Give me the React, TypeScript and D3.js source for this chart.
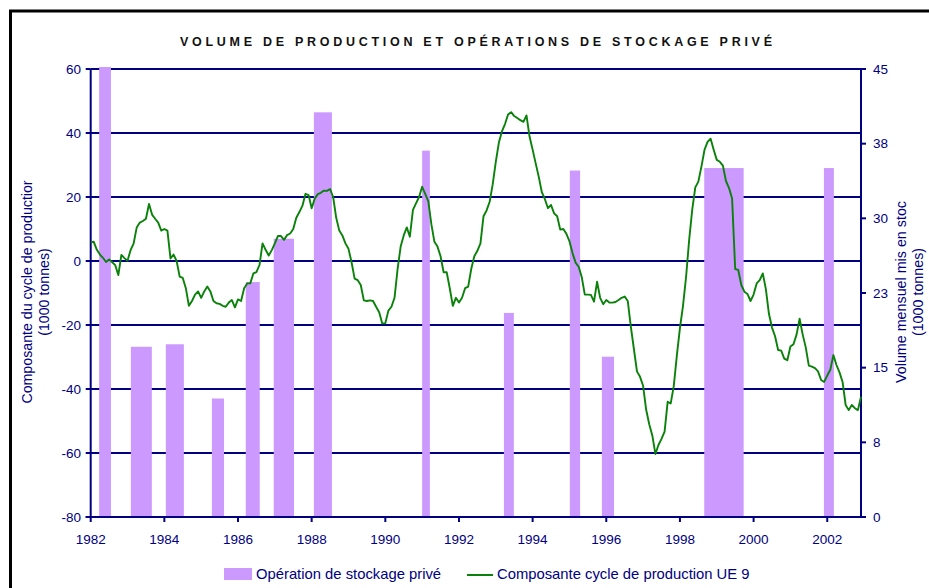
import React from "react";
import * as d3 from "d3";

const START_YEAR = 1982;
const cycleValues: number[] = [
  5.8, 6.0, 3.5, 2.0, 1.0, -0.3, 0.5, -0.4, -1.3, -4.4, 1.9, 0.9,
  0.1, 3.4, 5.5, 10.5, 12.0, 12.5, 13.2, 17.8, 14.5, 13.2, 12.0, 9.5,
  10.0, 9.5, 0.8, 2.0, 0.0, -4.9, -5.3, -8.5, -14.0, -12.5, -10.5, -9.5,
  -11.5, -9.5, -8.0, -9.5, -12.5, -13.2, -13.4, -14.0, -14.3, -13.0, -12.2, -14.5,
  -12.0, -12.5, -8.5, -7.0, -7.0, -3.9, -3.5, -1.25, 5.5, 3.5, 1.7, 3.4,
  5.5, 7.8, 7.8, 6.6, 8.1, 8.6, 10.0, 13.5, 15.3, 17.3, 21.0, 20.6,
  16.5, 19.5, 20.9, 21.3, 22.0, 21.9, 22.5, 20.0, 13.5, 9.5, 8.0, 5.5,
  3.8, -0.4, -5.5, -6.0, -7.5, -12.3, -12.5, -12.3, -12.5, -14.3, -16.0, -19.5,
  -19.5, -15.5, -14.3, -11.5, -2.5, 4.5, 8.0, 10.5, 7.6, 16.0, 18.0, 20.0,
  23.2, 21.0, 18.7, 11.5, 6.0, 4.5, 1.5, -3.5, -3.5, -8.5, -14.0, -11.5,
  -13.0, -11.5, -8.5, -8.0, -2.5, 1.5, 3.2, 5.5, 14.0, 15.8, 18.5, 24.0,
  31.0, 37.0, 40.5, 42.8, 45.8, 46.5, 45.3, 44.7, 44.0, 43.5, 45.5, 38.9,
  34.8, 30.5, 26.3, 21.5, 19.3, 16.5, 17.5, 14.9, 14.0, 9.8, 10.0, 8.5,
  6.2, 2.5, -0.5, -1.8, -5.0, -10.5, -10.5, -10.6, -12.7, -6.5, -11.5, -13.5,
  -12.2, -13.0, -13.0, -12.8, -12.2, -11.5, -11.1, -12.5, -20.5, -27.5, -34.5, -36.2,
  -39.0, -46.5, -51.0, -54.5, -60.3, -57.5, -55.6, -53.3, -44.0, -44.5, -39.0, -29.5,
  -21.0, -14.0, -5.0, 6.5, 16.0, 23.0, 24.8, 29.5, 34.7, 37.2, 38.2, 34.8,
  31.6, 31.0, 29.8, 25.0, 22.8, 19.5, -2.5, -2.8, -7.5, -9.6, -10.3, -12.5,
  -10.5, -7.0, -6.0, -3.9, -8.8, -16.5, -20.8, -23.5, -27.8, -28.0, -30.5, -31.0,
  -26.7, -26.0, -23.0, -18.0, -23.0, -27.0, -32.7, -33.0, -33.5, -34.5, -37.2, -37.8,
  -35.8, -34.0, -29.4, -32.5, -34.8, -37.8, -45.0, -46.6, -45.0, -46.0, -46.6, -42.4,
];

const barStart: number[] = [1982.23, 1983.09, 1984.04, 1985.29, 1986.21, 1986.97, 1988.06, 1991.0, 1993.22, 1995.01, 1995.88, 1998.66, 2001.91];
const barEnd: number[] = [1982.55, 1983.66, 1984.53, 1985.62, 1986.59, 1987.52, 1988.55, 1991.21, 1993.49, 1995.29, 1996.21, 1999.73, 2002.18];
const barValues: number[] = [45.2, 17.1, 17.35, 11.9, 23.6, 27.95, 40.65, 36.8, 20.5, 34.8, 16.1, 35.05, 35.05];

const leftTicks: number[] = [-80, -60, -40, -20, 0, 20, 40, 60];
const rightTicks: number[] = [0, 7.5, 15, 22.5, 30, 37.5, 45];
const rightTickLabels: string[] = ["0", "8", "15", "23", "30", "38", "45"];
const xTicks: number[] = [1982, 1984, 1986, 1988, 1990, 1992, 1994, 1996, 1998, 2000, 2002];

const TITLE = "VOLUME DE PRODUCTION ET OPÉRATIONS DE STOCKAGE PRIVÉ";
const LEFT_LABEL = ["Composante du cycle de productior", "(1000 tonnes)"];
const RIGHT_LABEL = ["Volume mensuel mis en stoc", "(1000 tonnes)"];
const LEGEND_BARS = "Opération de stockage privé";
const LEGEND_LINE = "Composante cycle de production UE 9";

const NAVY = "#000080";
const PURPLE = "#CC99FF";
const GREEN = "#0a820a";
const FONT = "'Liberation Sans', Arial, sans-serif";

export default function App() {
  const W = 929, H = 588;
  const x0 = 90.7, x1 = 861, yTop = 69, yBot = 517;
  const lastYear = START_YEAR + (cycleValues.length - 1) / 12;
  const x = d3.scaleLinear().domain([START_YEAR, lastYear]).range([x0, x1]);
  const yL = d3.scaleLinear().domain([-80, 60]).range([yBot, yTop]);
  const yR = d3.scaleLinear().domain([0, 45]).range([yBot, yTop]);

  const line = d3
    .line<number>()
    .x((_, i) => x(START_YEAR + i / 12))
    .y((d) => yL(d));

  const midY = (yTop + yBot) / 2 - 1;

  return (
    <div style={{ position: "absolute", left: 0, top: 0 }}>
      <svg width={W} height={H} style={{ display: "block", background: "#fff" }} fontFamily={FONT}>
        {/* frame */}
        <rect x={10.5} y={11} width={940} height={620} fill="none" stroke="#000" strokeWidth={3} />

        {/* title */}
        <text x={476} y={42} dy="0.35em" textAnchor="middle" fontSize={12.5} fontWeight="bold" fill="#111" textLength={592} lengthAdjust="spacing">
          {TITLE}
        </text>

        {/* gridlines */}
        {leftTicks.filter((t) => t !== -80).map((t) => (
          <line key={"g" + t} x1={x0} x2={x1} y1={yL(t)} y2={yL(t)} stroke={NAVY} strokeWidth={1.8} />
        ))}

        {/* bars */}
        {barValues.map((v, i) => (
          <rect key={"b" + i} x={x(barStart[i])} width={x(barEnd[i]) - x(barStart[i])} y={yR(v)} height={yBot - yR(v)} fill={PURPLE} />
        ))}

        {/* axes */}
        <line x1={x0} x2={x0} y1={yTop} y2={yBot} stroke={NAVY} strokeWidth={2} />
        <line x1={x1} x2={x1} y1={yTop} y2={yBot} stroke={NAVY} strokeWidth={2} />
        <line x1={x0 - 5} x2={x1} y1={yBot} y2={yBot} stroke={NAVY} strokeWidth={2} />

        {leftTicks.map((t) => (
          <g key={"lt" + t}>
            <line x1={x0 - 5} x2={x0} y1={yL(t)} y2={yL(t)} stroke={NAVY} strokeWidth={2} />
            <text x={81} y={yL(t)} dy="0.35em" textAnchor="end" fontSize={13.5} fill={NAVY}>
              {t}
            </text>
          </g>
        ))}

        {rightTicks.map((t, i) => (
          <g key={"rt" + t}>
            <line x1={x1} x2={x1 + 5} y1={yR(t)} y2={yR(t)} stroke={NAVY} strokeWidth={2} />
            <text x={873} y={yR(t)} dy="0.35em" textAnchor="start" fontSize={13.5} fill={NAVY}>
              {rightTickLabels[i]}
            </text>
          </g>
        ))}

        {xTicks.map((t) => (
          <g key={"xt" + t}>
            <line x1={x(t)} x2={x(t)} y1={yBot} y2={yBot + 5} stroke={NAVY} strokeWidth={2} />
            <text x={x(t)} y={539} dy="0.35em" textAnchor="middle" fontSize={13.5} fill={NAVY}>
              {t}
            </text>
          </g>
        ))}

        {/* line series */}
        <path d={line(cycleValues) || ""} fill="none" stroke={GREEN} strokeWidth={1.9} strokeLinejoin="round" />

        {/* axis titles */}
        <g transform={`translate(27,${midY}) rotate(-90)`}>
          <text x={0} y={0} dy="0.35em" textAnchor="middle" fontSize={14.2} fill={NAVY}>{LEFT_LABEL[0]}</text>
        </g>
        <g transform={`translate(44,${midY}) rotate(-90)`}>
          <text x={0} y={0} dy="0.35em" textAnchor="middle" fontSize={14.2} fill={NAVY}>{LEFT_LABEL[1]}</text>
        </g>
        <g transform={`translate(900.5,${midY}) rotate(-90)`}>
          <text x={0} y={0} dy="0.35em" textAnchor="middle" fontSize={14.3} fill={NAVY}>{RIGHT_LABEL[0]}</text>
        </g>
        <g transform={`translate(918,${midY}) rotate(-90)`}>
          <text x={0} y={0} dy="0.35em" textAnchor="middle" fontSize={14.3} fill={NAVY}>{RIGHT_LABEL[1]}</text>
        </g>

        {/* legend */}
        <rect x={224} y={568} width={28} height={12} fill={PURPLE} />
        <text x={256} y={574} dy="0.35em" fontSize={14.8} fill={NAVY}>{LEGEND_BARS}</text>
        <line x1={467} x2={493} y1={575} y2={575} stroke={GREEN} strokeWidth={2} />
        <text x={497} y={574} dy="0.35em" fontSize={14.8} fill={NAVY}>{LEGEND_LINE}</text>
      </svg>
    </div>
  );
}
